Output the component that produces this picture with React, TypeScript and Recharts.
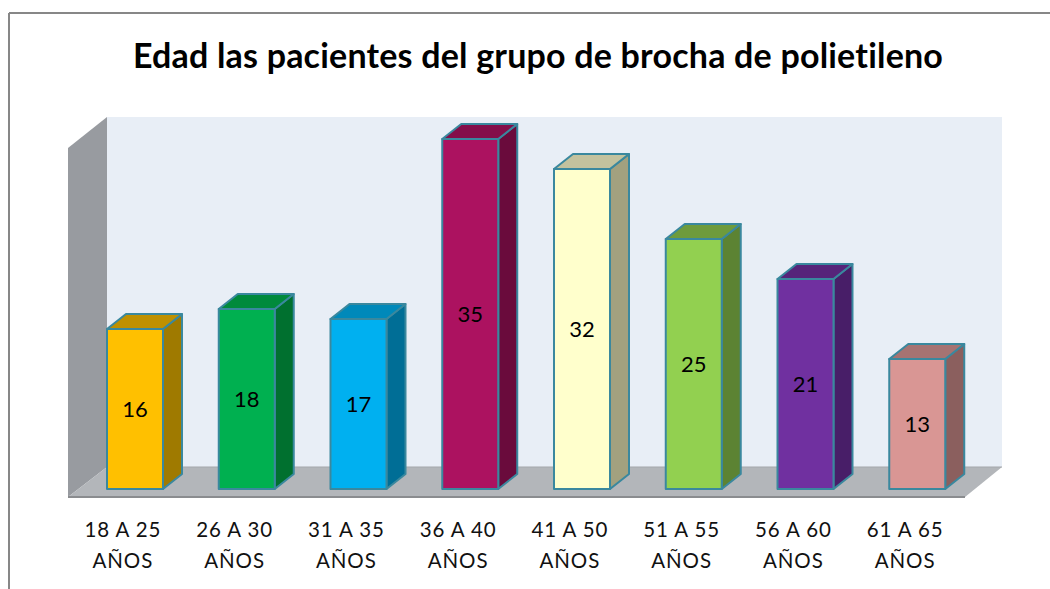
import React from "react";
import { Bar, BarChart, LabelList, XAxis, YAxis } from "recharts";

const categories = ["18 A 25", "26 A 30", "31 A 35", "36 A 40", "41 A 50", "51 A 55", "56 A 60", "61 A 65"];
const unitLine = "AÑOS";
const patients = [16, 18, 17, 35, 32, 25, 21, 13];

const frontColors = ["#FFC000", "#00B050", "#00B0F0", "#AC1260", "#FFFFCC", "#92D050", "#7030A0", "#D99694"];
const topColors = ["#BF9000", "#008A3C", "#0089BA", "#840E4A", "#C3C29E", "#6E9B3C", "#56247A", "#A67372"];
const sideColors = ["#9F7A00", "#00702F", "#006E96", "#6A0B3C", "#A2A17F", "#5C8333", "#481E68", "#8B5F5E"];

const data = categories.map((range, i) => ({ range, value: patients[i] }));

const W = 1050;
const H = 589;
const M = { top: 89, right: 77, bottom: 0, left: 79 };
const AXIS_H = 100;
const DX = 19;
const DY = 15;
const OUTLINE = "#3A889E";
const FONT = "Lato, 'Open Sans', sans-serif";

// plot-area helpers for the walls / floor drawn behind the bars
const plotLeft = M.left;
const plotRight = W - M.right;
const baseY = H - AXIS_H; // value 0 on the front plane

function Box(props: any) {
  const { x, y, width, height, index } = props;
  if (height <= 0) return null;
  const w = width;
  const h = height;
  return (
    <g stroke={OUTLINE} strokeWidth={2} strokeLinejoin="round">
      <polygon
        points={`${x + w},${y} ${x + w + DX},${y - DY} ${x + w + DX},${y + h - DY} ${x + w},${y + h}`}
        fill={sideColors[index]}
      />
      <polygon
        points={`${x},${y} ${x + DX},${y - DY} ${x + w + DX},${y - DY} ${x + w},${y}`}
        fill={topColors[index]}
      />
      <rect x={x} y={y} width={w} height={h} fill={frontColors[index]} />
    </g>
  );
}

function Tick(props: any) {
  const { x, y, payload } = props;
  return (
    <text x={x - 12} y={y} textAnchor="middle" fontFamily={FONT} fontSize={20.5} letterSpacing={0.9} fill="#111">
      <tspan x={x - 12} dy={40}>{payload.value}</tspan>
      <tspan x={x - 12} dy={31}>{unitLine}</tspan>
    </text>
  );
}

function Backdrop() {
  const floorFront = baseY + 8;
  const floorBack = floorFront - 30;
  const wallLeftFront = plotLeft - 11;
  const wallLeftBack = wallLeftFront + 39;
  const wallTop = 117;
  const wallRight = plotRight + 29;
  return (
    <svg width={W} height={H} style={{ position: "absolute", left: 0, top: 0 }}>
      <line x1={9} y1={13} x2={W} y2={13} stroke="#878787" strokeWidth={2} />
      <line x1={9} y1={13} x2={9} y2={H} stroke="#878787" strokeWidth={2} />
      <rect x={wallLeftBack} y={wallTop} width={wallRight - wallLeftBack} height={floorBack - wallTop} fill="#E8EEF6" />
      <polygon
        points={`${wallLeftFront},${wallTop + 31} ${wallLeftBack},${wallTop} ${wallLeftBack},${floorBack} ${wallLeftFront},${floorFront}`}
        fill="#989BA0"
      />
      <polygon
        points={`${wallLeftFront},${floorFront} ${wallLeftBack},${floorBack} ${wallRight},${floorBack} ${wallRight - 37},${floorFront}`}
        fill="#B3B6BA"
      />
      <line x1={wallLeftFront} y1={floorFront} x2={wallRight - 37} y2={floorFront} stroke="#8A8C8F" strokeWidth={2} />
      <line x1={wallLeftBack} y1={floorBack} x2={wallRight} y2={floorBack} stroke="#A4A7AB" strokeWidth={1} />
    </svg>
  );
}

export default function App() {
  return (
    <div style={{ position: "relative", width: W, height: H, background: "#fff" }}>
      <style>{`body{margin:0}`}</style>
      <Backdrop />
      <div style={{ position: "absolute", left: 0, top: 0 }}>
        <BarChart width={W} height={H} data={data} margin={M} barSize={56}>
          <text
            x={538}
            y={68}
            textAnchor="middle"
            fontFamily={FONT}
            fontWeight={700}
            fontSize={34}
            letterSpacing={0.2}
            fill="#000"
          >
            Edad las pacientes del grupo de brocha de polietileno
          </text>
          <XAxis dataKey="range" axisLine={false} tickLine={false} height={AXIS_H} tick={<Tick />} interval={0} />
          <YAxis hide domain={[0, 40]} />
          <Bar dataKey="value" shape={<Box />} isAnimationActive={false}>
            <LabelList dataKey="value" position="center" fontFamily={FONT} fontSize={22} fill="#000" />
          </Bar>
        </BarChart>
      </div>
    </div>
  );
}
